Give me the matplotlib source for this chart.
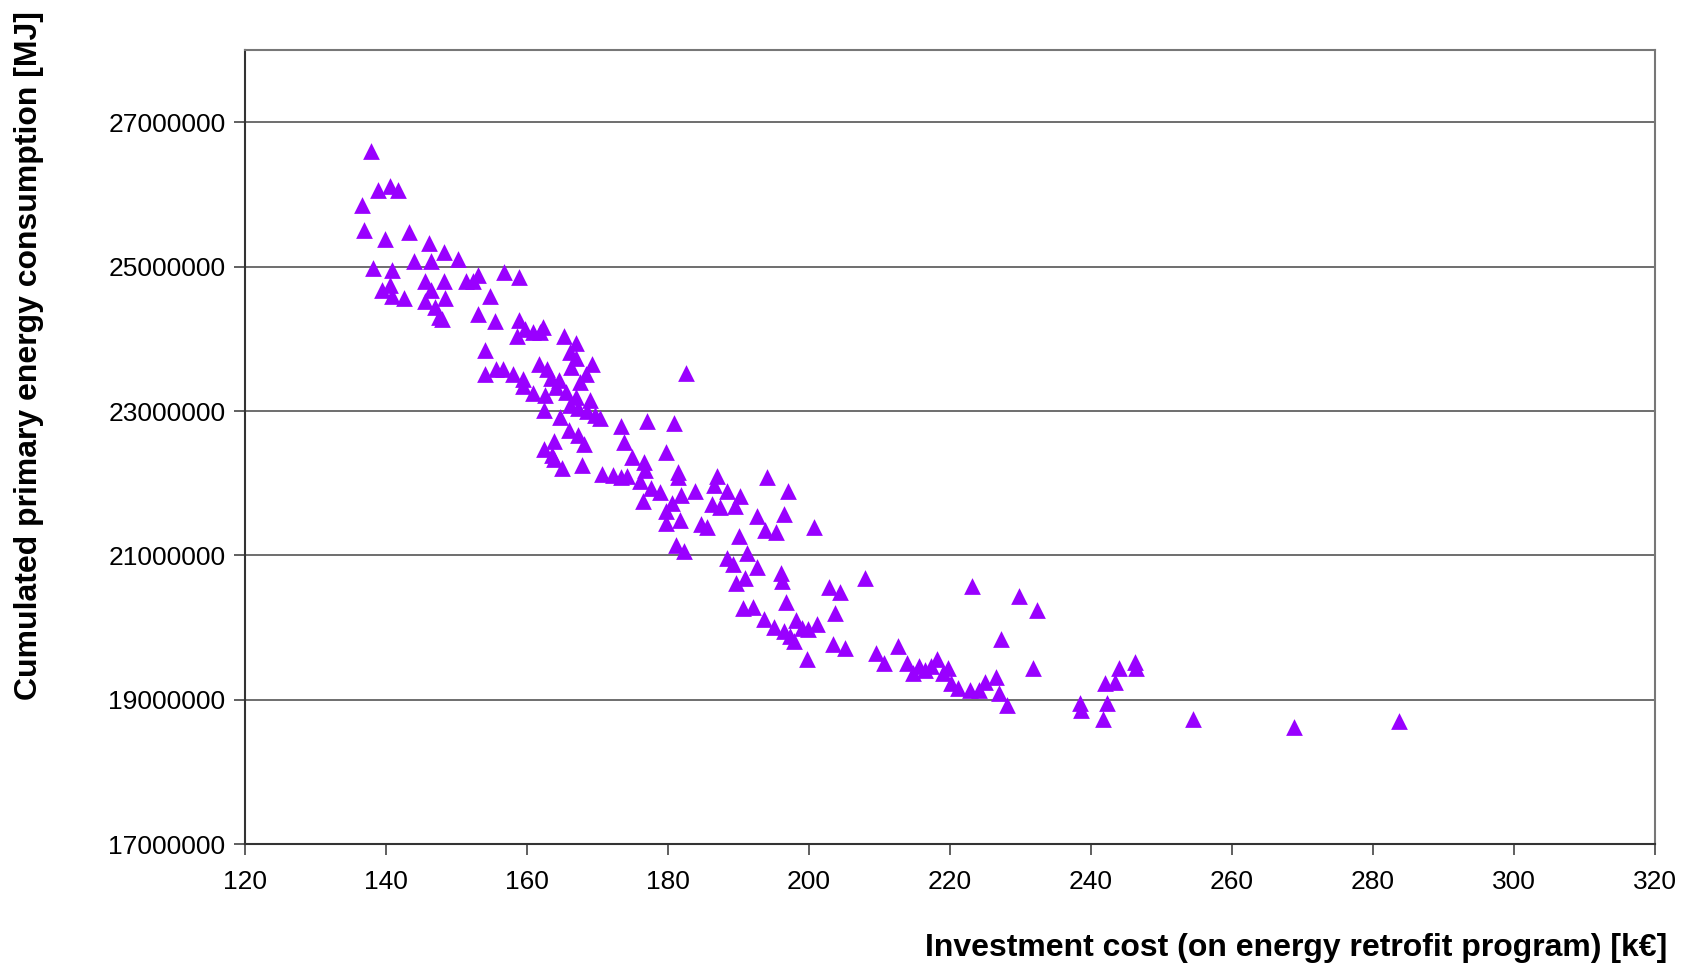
import numpy as np
import matplotlib.pyplot as plt

# investment cost [k€] and cumulated primary energy [MJ]
cost = [137.9, 136.6, 138.8, 140.6, 141.7, 136.9, 138.2, 139.8, 143.2, 139.5,
        140.9, 140.6, 140.9, 142.6, 144.0, 146.1, 146.4, 145.5, 145.5, 146.4,
        147.0, 147.5, 148.3, 148.3, 148.4, 147.9, 150.2, 151.4, 152.4, 153.0,
        153.0, 154.8, 155.4, 156.8, 158.9, 154.0, 154.0, 155.6, 156.6, 158.0,
        158.6, 158.9, 159.7, 160.8, 161.8, 162.3, 159.4, 159.5, 160.8, 161.7,
        162.9, 162.6, 163.4, 164.1, 162.4, 162.4, 163.5, 163.9, 163.9, 165.0,
        165.3, 166.1, 166.9, 167.0, 166.3, 164.6, 165.6, 164.7, 165.9, 166.1,
        166.9, 167.3, 167.6, 168.4, 169.2, 167.8, 168.1, 167.3, 168.5, 169.0,
        169.6, 170.4, 170.7, 172.2, 173.3, 174.2, 173.4, 173.8, 174.9, 176.0,
        176.5, 176.6, 177.1, 177.6, 176.8, 178.9, 179.7, 180.9, 182.6, 179.7,
        179.7, 180.6, 181.4, 181.5, 181.8, 181.1, 182.3, 181.7, 183.9, 184.7,
        185.6, 186.2, 186.6, 187.0, 187.4, 188.4, 189.5, 190.2, 194.0, 192.6,
        193.8, 195.3, 197.1, 196.5, 200.8, 190.1, 188.4, 189.2, 189.7, 191.2,
        190.9, 192.6, 190.7, 192.1, 193.6, 196.0, 196.2, 196.8, 195.1, 196.5,
        197.3, 198.2, 197.9, 199.0, 199.9, 201.1, 199.7, 202.9, 204.4, 203.7,
        203.5, 205.2, 207.9, 209.6, 210.7, 212.7, 214.0, 214.8, 215.7, 216.5,
        217.4, 218.2, 219.1, 219.8, 220.2, 221.1, 223.1, 222.9, 224.2, 225.0,
        226.6, 227.0, 228.1, 227.3, 229.8, 232.4, 231.8, 238.5, 238.6, 242.3,
        241.7, 242.0, 243.4, 244.0, 246.3, 246.4, 254.5, 268.9, 283.8]
energy = [26.61, 25.85, 26.06, 26.12, 26.06, 25.51, 24.99, 25.39, 25.48, 24.68,
          24.95, 24.75, 24.59, 24.57, 25.08, 25.33, 25.08, 24.80, 24.53, 24.68,
          24.44, 24.31, 25.21, 24.80, 24.57, 24.28, 25.11, 24.80, 24.80, 24.89,
          24.35, 24.59, 24.25, 24.93, 24.86, 23.85, 23.52, 23.59, 23.58, 23.52,
          24.04, 24.26, 24.14, 24.10, 24.10, 24.16, 23.44, 23.35, 23.25, 23.65,
          23.58, 23.22, 23.46, 23.34, 23.01, 22.48, 22.39, 22.58, 22.33, 22.21,
          24.04, 23.82, 23.95, 23.74, 23.61, 23.43, 23.27, 22.92, 22.74, 23.09,
          23.19, 23.04, 23.40, 23.52, 23.65, 22.25, 22.55, 22.67, 23.00, 23.16,
          22.94, 22.91, 22.13, 22.12, 22.09, 22.10, 22.79, 22.57, 22.36, 22.03,
          21.76, 22.30, 22.86, 21.93, 22.19, 21.88, 22.43, 22.84, 23.53, 21.61,
          21.45, 21.73, 22.15, 22.09, 21.84, 21.15, 21.06, 21.49, 21.90, 21.43,
          21.39, 21.72, 21.97, 22.10, 21.67, 21.90, 21.69, 21.82, 22.09, 21.54,
          21.35, 21.33, 21.90, 21.57, 21.40, 21.27, 20.97, 20.88, 20.62, 21.03,
          20.69, 20.84, 20.27, 20.29, 20.12, 20.76, 20.65, 20.36, 20.01, 19.95,
          19.89, 20.10, 19.81, 19.99, 19.98, 20.05, 19.57, 20.56, 20.50, 20.20,
          19.77, 19.72, 20.69, 19.65, 19.51, 19.75, 19.51, 19.37, 19.47, 19.41,
          19.47, 19.56, 19.37, 19.44, 19.23, 19.17, 20.57, 19.14, 19.13, 19.25,
          19.32, 19.10, 18.93, 19.84, 20.44, 20.24, 19.44, 18.95, 18.86, 18.96,
          18.73, 19.23, 19.24, 19.44, 19.53, 19.44, 18.73, 18.62, 18.70]
energy = np.array(energy) * 1e6

xticks = np.arange(120, 321, 20)
yticks = [17000000, 19000000, 21000000, 23000000, 25000000, 27000000]

plt.rcParams['font.family'] = ['Liberation Sans', 'DejaVu Sans']

fig = plt.figure(figsize=(16.84, 9.68), dpi=100)
ax = fig.add_axes([0.1455, 0.128, 0.837, 0.820])

ax.scatter(cost, energy, marker='^', s=145, color='#9900FF', linewidths=0, zorder=3)

ax.set_xlim(120, 320)
ax.set_ylim(17000000, 28000000)
ax.set_xticks(xticks)
ax.set_yticks(yticks)
ax.set_yticklabels([str(v) for v in yticks])
ax.tick_params(axis='both', direction='out', length=8, width=1.2, labelsize=19, color='#444444')
ax.tick_params(axis='x', pad=11)
ax.tick_params(axis='y', pad=6)
ax.grid(axis='y', color='#555555', linewidth=1.2, zorder=1)

for s in ['top', 'right']:
    ax.spines[s].set_color('#777777')
    ax.spines[s].set_linewidth(1.5)
for s in ['left', 'bottom']:
    ax.spines[s].set_color('#333333')
    ax.spines[s].set_linewidth(1.5)

fig.text(1667/1684, 1-948/968, 'Investment cost (on energy retrofit program) [k€]',
         ha='right', va='center', fontsize=23, fontweight='bold')
fig.text(29/1684, 1-11/968, 'Cumulated primary energy consumption [MJ]',
         ha='center', va='top', rotation=90, fontsize=23, fontweight='bold')

plt.savefig('out.png', dpi=100)
